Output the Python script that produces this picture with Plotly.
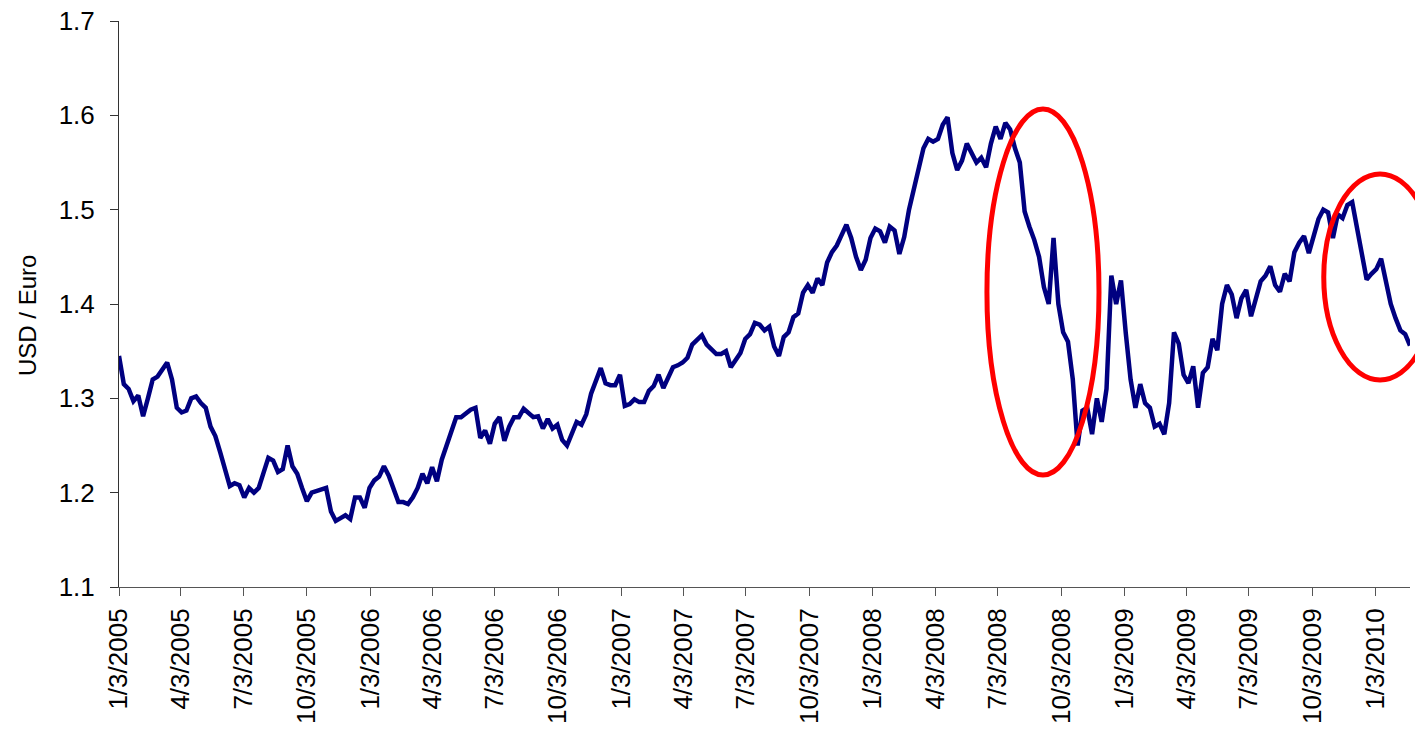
import pandas as pd
import plotly.graph_objects as go

# weekly USD / Euro readings, first week starting 1/3/2005
start_date = "2005-01-03"
usd_per_euro = [
    1.345, 1.315, 1.31, 1.297, 1.303, 1.281, 1.30, 1.32, 1.323, 1.33,
    1.338, 1.32, 1.29, 1.285, 1.287, 1.30, 1.302, 1.295, 1.29, 1.27,
    1.26, 1.243, 1.223, 1.207, 1.21, 1.208, 1.195, 1.205, 1.20, 1.205,
    1.221, 1.237, 1.234, 1.222, 1.225, 1.25, 1.228, 1.22, 1.205, 1.191,
    1.20, 1.202, 1.203, 1.205, 1.18, 1.17, 1.173, 1.176, 1.172, 1.195,
    1.195, 1.184, 1.205, 1.213, 1.217, 1.228, 1.218, 1.203, 1.19, 1.19,
    1.188, 1.195, 1.205, 1.22, 1.21, 1.227, 1.212, 1.235, 1.25, 1.266,
    1.28, 1.28, 1.284, 1.288, 1.29, 1.258, 1.266, 1.252, 1.273, 1.28,
    1.255, 1.27, 1.28, 1.28, 1.289, 1.285, 1.28, 1.281, 1.268, 1.278,
    1.268, 1.272, 1.256, 1.25, 1.262, 1.275, 1.272, 1.283, 1.305, 1.318,
    1.332, 1.316, 1.314, 1.314, 1.325, 1.292, 1.294, 1.299, 1.296, 1.296,
    1.308, 1.313, 1.325, 1.311, 1.322, 1.333, 1.335, 1.338, 1.343, 1.357,
    1.362, 1.367, 1.357, 1.352, 1.347, 1.347, 1.35, 1.333, 1.341, 1.348,
    1.363, 1.368, 1.38, 1.378, 1.372, 1.376, 1.355, 1.345, 1.365, 1.37,
    1.386, 1.39, 1.412, 1.42, 1.412, 1.427, 1.42, 1.444, 1.455, 1.462,
    1.473, 1.484, 1.47, 1.45, 1.436, 1.447, 1.47, 1.48, 1.477, 1.465,
    1.482, 1.478, 1.453, 1.471, 1.50, 1.521, 1.545, 1.565, 1.575, 1.572,
    1.575, 1.59, 1.598, 1.56, 1.542, 1.552, 1.57, 1.56, 1.55, 1.555,
    1.545, 1.57, 1.588, 1.575, 1.592, 1.585, 1.565, 1.55, 1.498, 1.482,
    1.468, 1.45, 1.418, 1.40, 1.47, 1.40, 1.37, 1.36, 1.32, 1.25,
    1.287, 1.29, 1.262, 1.30, 1.275, 1.31, 1.43, 1.40, 1.425, 1.369,
    1.32, 1.29, 1.315, 1.295, 1.29, 1.27, 1.273, 1.262, 1.295, 1.37,
    1.358, 1.325, 1.316, 1.334, 1.29, 1.327, 1.333, 1.363, 1.351, 1.40,
    1.42, 1.41, 1.385, 1.406, 1.415, 1.387, 1.407, 1.424, 1.43, 1.44,
    1.42, 1.413, 1.432, 1.424, 1.455, 1.465, 1.472, 1.454, 1.472, 1.49,
    1.50, 1.497, 1.47, 1.495, 1.491, 1.505, 1.508, 1.48, 1.452, 1.426,
    1.432, 1.437, 1.448, 1.425, 1.40, 1.385, 1.372, 1.368, 1.356,
]
dates = pd.date_range(start_date, periods=len(usd_per_euro), freq="7D")

y_ticks = [1.1, 1.2, 1.3, 1.4, 1.5, 1.6, 1.7]

fig = go.Figure()
fig.add_trace(go.Scatter(
    x=dates, y=usd_per_euro, mode="lines",
    line=dict(color="#000080", width=4.5),
    showlegend=False,
))

# red rings around the two drops (paper coords so they can spill past the axis end)
ring = dict(type="circle", xref="paper", yref="paper",
            line=dict(color="#FF0000", width=5), layer="above")
fig.add_shape(x0=0.6723, x1=0.7591, y0=0.1979, y1=0.8445, **ring)
fig.add_shape(x0=0.9332, x1=1.0204, y0=0.3657, y1=0.7297, **ring)

font_family = "Liberation Sans, Arial, sans-serif"

fig.update_xaxes(
    type="date", automargin=False,
    range=[dates[0], dates[-1]],
    tick0=start_date, dtick="M3", tickformat="%-m/%-d/%Y",
    tickangle=-90, tickfont=dict(family=font_family, size=26, color="#000000"),
    ticks="outside", ticklen=8, tickcolor="#555555", ticklabelstandoff=2,
    showline=True, linecolor="#555555", linewidth=1,
    showgrid=False, zeroline=False,
)
fig.update_yaxes(
    automargin=False,
    range=[1.1, 1.7], tickvals=y_ticks, tickformat=".1f",
    tickfont=dict(family=font_family, size=26, color="#000000"),
    ticks="outside", ticklen=8, tickcolor="#333333", ticklabelstandoff=10,
    ticklabeloverflow="allow",
    showline=True, linecolor="#333333", linewidth=1,
    showgrid=False, zeroline=False,
)

# axis title as a rotated annotation, sitting a bit below the axis middle like the original
fig.add_annotation(
    text="USD / Euro", textangle=-90, showarrow=False,
    xref="paper", yref="paper", x=-0.0705, y=0.4806,
    xanchor="center", yanchor="middle",
    font=dict(family=font_family, size=24, color="#000000"),
)

# page body adds an 8px offset, so the figure is 8px smaller than the window
fig.update_layout(
    width=1415, height=725,
    margin=dict(l=111, r=13, t=13, b=146),
    plot_bgcolor="white", paper_bgcolor="white",
)

fig.write_html("out.html")
